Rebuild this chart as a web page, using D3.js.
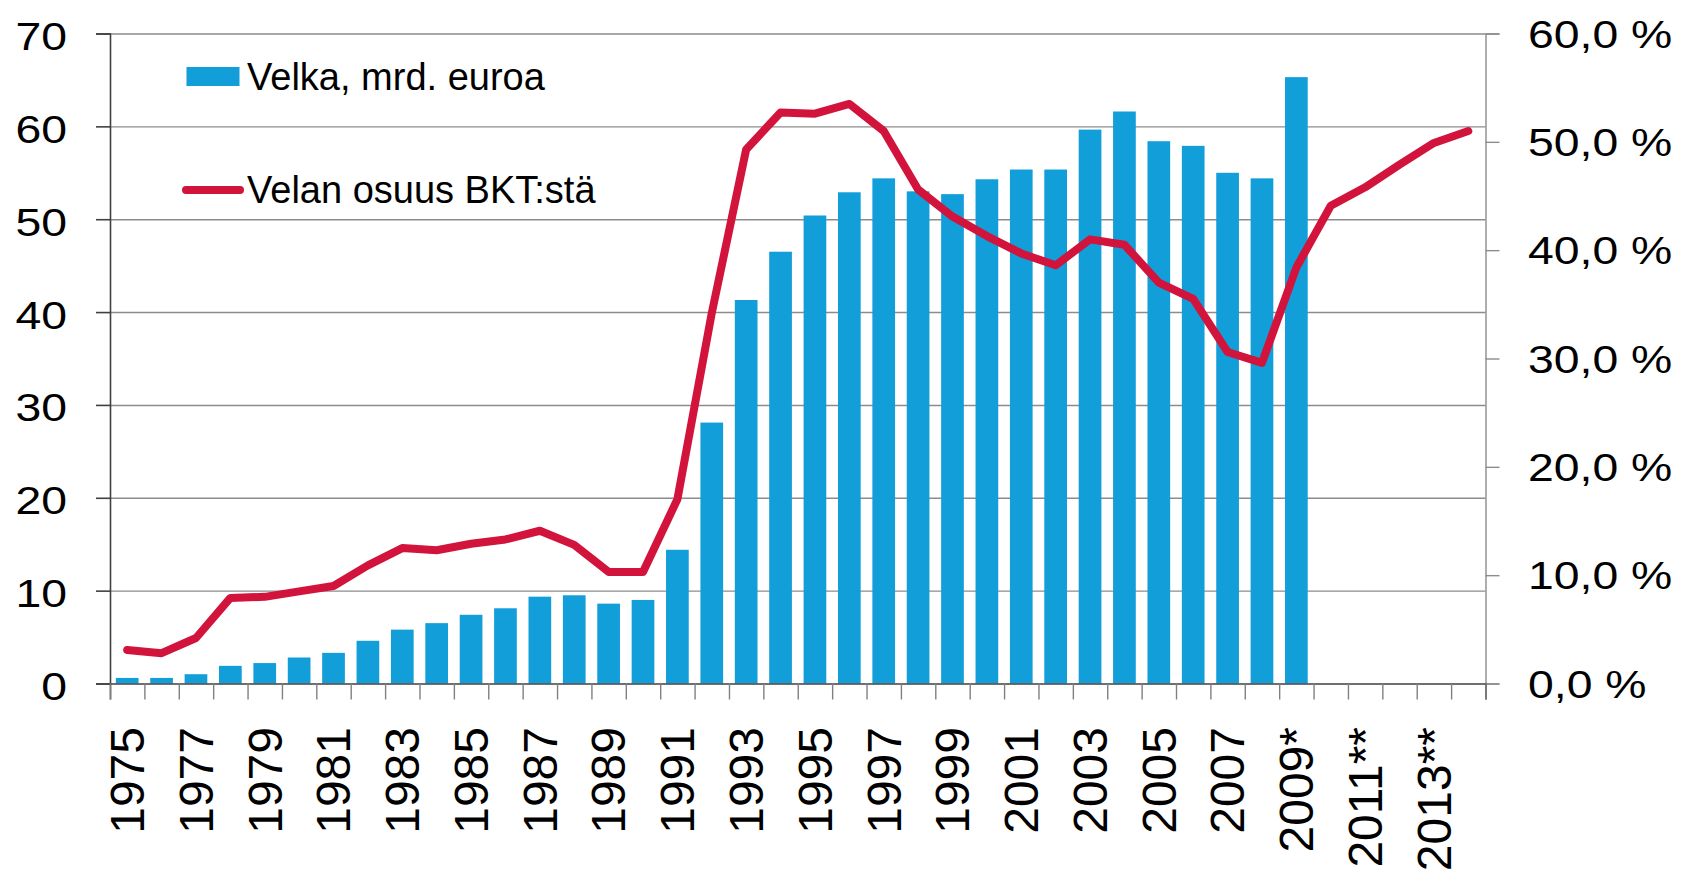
<!DOCTYPE html>
<html>
<head>
<meta charset="utf-8">
<script src="https://cdn.jsdelivr.net/npm/d3@7"></script>
<style>
  body { margin: 0; background: #fff; }
  svg text { font-family: 'Liberation Sans', Arial, sans-serif; fill: #000; }
</style>
</head>
<body>
<div id="chart"></div>
<script>
// categories (years), '*' = estimate, '**' = forecast
const years = ['1975', '1976', '1977', '1978', '1979', '1980', '1981', '1982', '1983', '1984',
    '1985', '1986', '1987', '1988', '1989', '1990', '1991', '1992', '1993', '1994',
    '1995', '1996', '1997', '1998', '1999', '2000', '2001', '2002', '2003', '2004',
    '2005', '2006', '2007', '2008', '2009*', '2010**', '2011**', '2012**', '2013**', '2014**'];

// Velka, mrd. euroa (bars, 1975-2009)
const debt = [0.6, 0.6, 1.0, 1.9, 2.2, 2.8, 3.3, 4.6, 5.8, 6.5,
    7.4, 8.1, 9.35, 9.5, 8.6, 9.0, 14.4, 28.1, 41.3, 46.5,
    50.4, 52.9, 54.4, 53.0, 52.7, 54.3, 55.35, 55.35, 59.65, 61.6,
    58.4, 57.9, 55.0, 54.4, 65.3];

// Velan osuus BKT:stä, % (line, 1975-2014)
const share = [3.1, 2.8, 4.2, 7.9, 8.0, 8.5, 9.0, 10.9, 12.5, 12.3,
    12.9, 13.3, 14.1, 12.8, 10.3, 10.3, 17.0, 34.2, 49.3, 52.7,
    52.6, 53.5, 51.0, 45.6, 43.1, 41.3, 39.7, 38.6, 41.0, 40.5,
    37.0, 35.5, 30.6, 29.6, 38.4, 44.1, 45.8, 47.9, 49.9, 51.0];

const leftTicks = [0, 10, 20, 30, 40, 50, 60, 70];
const rightTicks = [0, 10, 20, 30, 40, 50, 60];

const width = 1697;
const height = 876;
const margin = { top: 33.5, right: 211.5, bottom: 192.5, left: 110 };
const chartWidth = width - margin.left - margin.right;
const chartHeight = height - margin.top - margin.bottom;

const barColor = '#119ed9';
const lineColor = '#d2143c';

const svg = d3.select('#chart')
    .append('svg')
    .attr('width', width)
    .attr('height', height);

const chart = svg.append('g')
    .attr('transform', `translate(${margin.left},${margin.top})`);

// scales
const xScale = d3.scaleBand()
    .domain(years)
    .range([0, chartWidth])
    .paddingInner(0.34)
    .paddingOuter(0.17);
// boundaries between categories, for the tick marks
const xEdge = d3.scaleLinear()
    .domain([0, years.length])
    .range([0, chartWidth]);
const yLeft = d3.scaleLinear()
    .domain([0, 70])
    .range([chartHeight, 0]);
const yRight = d3.scaleLinear()
    .domain([0, 60])
    .range([chartHeight, 0]);

// gridlines
chart.append('g')
    .attr('class', 'gridline')
    .call(d3.axisLeft(yLeft).tickValues(leftTicks.slice(1)).tickSize(-chartWidth).tickFormat(''))
    .call(g => g.select('.domain').remove())
    .call(g => g.selectAll('line').attr('stroke', '#8c8c8c').attr('stroke-width', 1.4));

// bars
chart.selectAll('.bar')
    .data(debt)
    .enter()
    .append('rect')
    .classed('bar', true)
    .attr('x', (d, i) => xScale(years[i]))
    .attr('y', d => yLeft(d))
    .attr('width', xScale.bandwidth())
    .attr('height', d => chartHeight - yLeft(d))
    .attr('fill', barColor);

// line
const line = d3.line()
    .x((d, i) => xScale(years[i]) + xScale.bandwidth() / 2)
    .y(d => yRight(d));

chart.append('path')
    .datum(share)
    .attr('d', line)
    .attr('fill', 'none')
    .attr('stroke', lineColor)
    .attr('stroke-width', 8)
    .attr('stroke-linejoin', 'round')
    .attr('stroke-linecap', 'round');

const labelScale = 1.22;

// left axis
chart.append('g')
    .attr('class', 'y axis')
    .call(d3.axisLeft(yLeft).tickValues(leftTicks).tickSize(14).tickFormat(d3.format('d')))
    .call(g => g.selectAll('.domain, line').attr('stroke', '#404040').attr('stroke-width', 1.6))
    .call(g => g.selectAll('text')
        .attr('x', -43 / labelScale)
        .attr('dy', '0.42em')
        .attr('transform', `scale(${labelScale},1)`)
        .style('font-size', '38px'));

// right axis
chart.append('g')
    .attr('class', 'y2 axis')
    .attr('transform', `translate(${chartWidth},0)`)
    .call(d3.axisRight(yRight).tickValues(rightTicks).tickSize(14)
        .tickFormat(d => d3.format('.1f')(d).replace('.', ',') + ' %'))
    .call(g => g.selectAll('.domain, line').attr('stroke', '#8c8c8c').attr('stroke-width', 1.4))
    .call(g => g.selectAll('text')
        .attr('x', 42.5 / labelScale)
        .attr('dy', '0.36em')
        .attr('transform', `scale(${labelScale},1)`)
        .style('font-size', '38px'));

// x axis tick marks at category boundaries
chart.append('g')
    .attr('class', 'x axis')
    .attr('transform', `translate(0,${chartHeight})`)
    .call(d3.axisBottom(xEdge).ticks(years.length).tickSize(16).tickFormat(''))
    .call(g => g.select('.domain').attr('stroke', '#404040').attr('stroke-width', 1.6))
    .call(g => g.selectAll('line').attr('stroke', '#808080').attr('stroke-width', 1.4));

// x labels, every other year
chart.append('g')
    .attr('class', 'x labels')
    .attr('transform', `translate(0,${chartHeight})`)
    .call(d3.axisBottom(xScale).tickSize(0)
        .tickFormat((d, i) => i % 2 === 0 ? d : ''))
    .call(g => g.select('.domain').remove())
    .call(g => g.selectAll('text')
        .attr('transform', 'rotate(-90)')
        .attr('x', -43.5)
        .attr('y', 0)
        .attr('dy', '0.35em')
        .style('text-anchor', 'end')
        .style('font-size', '48px'));

// legend
const legend = svg.append('g').attr('class', 'legend');

legend.append('rect')
    .attr('x', 186.5)
    .attr('y', 67)
    .attr('width', 53)
    .attr('height', 19)
    .attr('fill', barColor);

legend.append('text')
    .attr('x', 247)
    .attr('y', 90)
    .style('font-size', '38px')
    .text('Velka, mrd. euroa');

legend.append('line')
    .attr('x1', 186)
    .attr('x2', 240)
    .attr('y1', 190)
    .attr('y2', 190)
    .attr('stroke', lineColor)
    .attr('stroke-width', 8)
    .attr('stroke-linecap', 'round');

legend.append('text')
    .attr('x', 247)
    .attr('y', 203)
    .style('font-size', '38px')
    .text('Velan osuus BKT:stä');
</script>
</body>
</html>
